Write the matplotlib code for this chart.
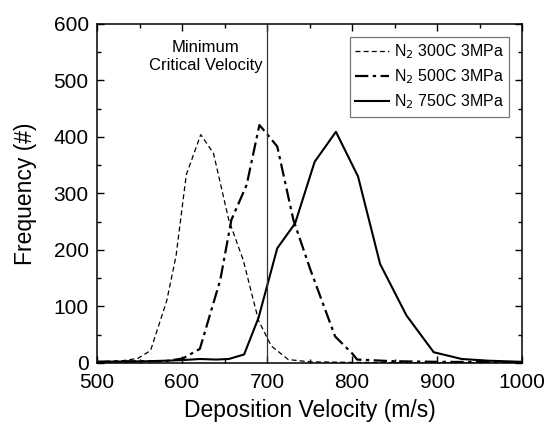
import matplotlib
matplotlib.use('Agg')
import matplotlib.pyplot as plt
from matplotlib.ticker import MultipleLocator

plt.rcParams['font.family'] = ['Liberation Sans', 'DejaVu Sans']

# --- DATA: particle velocity distributions for N2 at 3 MPa ---
V_300 = [500, 530, 548, 563, 582, 593, 605, 622, 637, 655, 672, 690, 705, 725, 750, 800, 900, 1000]
F_300 = [2, 4, 8, 22, 110, 190, 333, 404, 371, 253, 182, 75, 30, 6, 2, 1, 0, 0]

V_500 = [500, 550, 580, 601, 621, 645, 658, 676, 691, 700, 712, 731, 751, 780, 800, 806, 850, 900, 1000]
F_500 = [2, 3, 3, 8, 25, 147, 253, 315, 421, 405, 383, 253, 165, 47, 17, 6, 3, 2, 1]

V_750 = [500, 560, 600, 621, 640, 655, 673, 690, 712, 733, 756, 781, 807, 833, 864, 896, 929, 960, 1000]
F_750 = [2, 3, 5, 7, 6, 7, 15, 80, 203, 247, 356, 409, 330, 175, 84, 19, 7, 4, 2]

LABELS = ['N$_2$ 300C 3MPa', 'N$_2$ 500C 3MPa', 'N$_2$ 750C 3MPa']
V_CRIT = 700


def main():
    fig = plt.figure(figsize=(5.45, 4.26), dpi=100)
    ax = fig.add_axes([0.178, 0.148, 0.780, 0.796])

    ax.plot(V_300, F_300, color='black', linewidth=0.9, dashes=(4, 2.5), label=LABELS[0])
    ax.plot(V_500, F_500, color='black', linewidth=1.6, dashes=(6, 2, 1.5, 2), label=LABELS[1])
    ax.plot(V_750, F_750, color='black', linewidth=1.5, label=LABELS[2])

    # minimum critical velocity marker
    ax.axvline(V_CRIT, color='#333333', linewidth=0.9)
    ax.text(628, 572, 'Minimum\nCritical Velocity', ha='center', va='top',
            fontsize=12, linespacing=1.25)

    ax.set_xlim(500, 1000)
    ax.set_ylim(0, 600)
    ax.xaxis.set_major_locator(MultipleLocator(100))
    ax.xaxis.set_minor_locator(MultipleLocator(50))
    ax.yaxis.set_major_locator(MultipleLocator(100))
    ax.yaxis.set_minor_locator(MultipleLocator(50))
    ax.tick_params(which='both', direction='in', top=True, right=True,
                   labelsize=15)
    ax.tick_params(axis='x', pad=7)
    ax.tick_params(axis='y', pad=6)
    ax.tick_params(which='major', length=5, width=1)
    ax.tick_params(which='minor', length=3, width=1)
    for spine in ax.spines.values():
        spine.set_linewidth(1.1)

    ax.set_xlabel('Deposition Velocity (m/s)', fontsize=16.5, labelpad=5)
    ax.set_ylabel('Frequency (#)', fontsize=16.5, labelpad=12)

    leg = ax.legend(loc='upper right', fontsize=11.5, handlelength=2.1,
                    handletextpad=0.3, borderpad=0.35, labelspacing=0.4,
                    frameon=True, fancybox=False, borderaxespad=0.8)
    leg.get_frame().set_edgecolor('#555555')
    leg.get_frame().set_linewidth(0.9)

    fig.savefig('out.png', dpi=100)
    plt.close(fig)


if __name__ == '__main__':
    main()
